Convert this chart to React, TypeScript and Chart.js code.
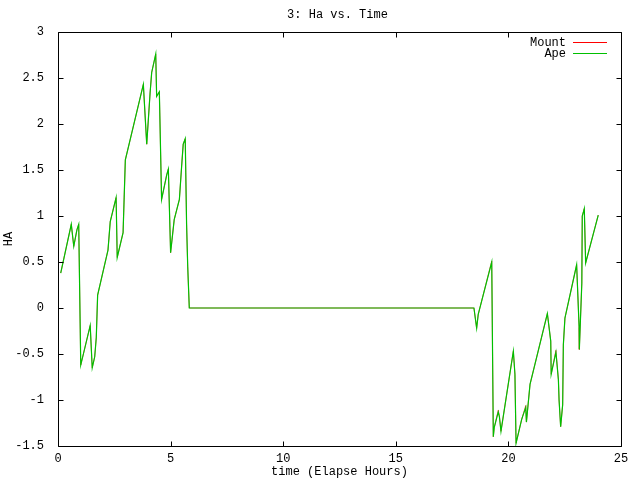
import React, { useEffect, useRef } from "react";
import { Chart, registerables } from "chart.js";

Chart.register(...registerables);

const titleText = "3: Ha vs. Time";
const xAxisTitle = "time (Elapse Hours)";
const yAxisTitle = "HA";
const seriesNames = ["Mount", "Ape"];
const seriesColors = ["#ff0000", "#00c000"];

const timeHours = [
  0.12, 0.59, 0.7, 0.84, 0.92, 1.01, 1.43, 1.52, 1.63, 1.7,
  1.76, 2.22, 2.32, 2.58, 2.63, 2.89, 2.99, 3.79, 3.94, 4.09,
  4.16, 4.34, 4.38, 4.5, 4.6, 4.83, 4.9, 5.0, 5.16, 5.39,
  5.49, 5.56, 5.65, 5.71, 5.76, 5.83,
  18.47, 18.59, 18.66, 19.26, 19.33, 19.37, 19.55, 19.6, 19.67, 20.22,
  20.29, 20.34, 20.59, 20.77, 20.8, 20.96, 21.73, 21.88, 21.9, 22.11,
  22.22, 22.25, 22.32, 22.41, 22.44, 22.51, 23.03, 23.14, 23.15, 23.26,
  23.28, 23.37, 23.43, 23.99,
];

const mountHA = [
  0.38, 0.91, 0.67, 0.85, 0.91, -0.62, -0.19, -0.65, -0.53, -0.32,
  0.14, 0.63, 0.94, 1.2, 0.55, 0.82, 1.61, 2.43, 1.78, 2.34,
  2.56, 2.76, 2.3, 2.35, 1.18, 1.45, 1.51, 0.6, 0.96, 1.18,
  1.54, 1.78, 1.84, 0.91, 0.45, 0.0,
  0.0, -0.22, -0.07, 0.51, -1.4, -1.3, -1.11, -1.18, -1.34, -0.47,
  -0.72, -1.47, -1.21, -1.06, -1.24, -0.83, -0.06, -0.36, -0.72, -0.46,
  -0.78, -1.0, -1.29, -1.05, -0.4, -0.11, 0.47, -0.21, -0.45, 0.27,
  1.0, 1.08, 0.49, 1.01,
];

const apeHA = [
  0.38, 0.91, 0.67, 0.85, 0.91, -0.62, -0.19, -0.65, -0.53, -0.32,
  0.14, 0.63, 0.94, 1.2, 0.55, 0.82, 1.61, 2.43, 1.78, 2.34,
  2.56, 2.76, 2.3, 2.35, 1.18, 1.45, 1.51, 0.6, 0.96, 1.18,
  1.54, 1.78, 1.84, 0.91, 0.45, 0.0,
  0.0, -0.22, -0.07, 0.5, -1.4, -1.3, -1.13, -1.18, -1.34, -0.47,
  -0.72, -1.47, -1.21, -1.08, -1.24, -0.83, -0.06, -0.36, -0.72, -0.48,
  -0.78, -1.0, -1.29, -1.05, -0.4, -0.11, 0.47, -0.21, -0.45, 0.27,
  1.0, 1.08, 0.49, 1.01,
];

const xTicks = [0, 5, 10, 15, 20, 25];
const yTicks = [-1.5, -1, -0.5, 0, 0.5, 1, 1.5, 2, 2.5, 3];

const FONT = "'Liberation Mono', 'DejaVu Sans Mono', monospace";
const FONT_SIZE = 12;

const gnuplotDecor = {
  id: "gnuplotDecor",
  afterDraw(chart: any) {
    const { ctx, chartArea: a, scales } = chart;
    const L = Math.round(a.left) + 0.5;
    const R = Math.round(a.right) + 0.5;
    const T = Math.round(a.top) + 0.5;
    const B = Math.round(a.bottom) + 0.5;
    ctx.save();
    ctx.strokeStyle = "#000";
    ctx.lineWidth = 1;
    ctx.beginPath();
    ctx.rect(L, T, R - L, B - T);
    const tl = 5;
    for (const v of yTicks) {
      const y = Math.round(scales.y.getPixelForValue(v)) + 0.5;
      ctx.moveTo(L, y);
      ctx.lineTo(L + tl, y);
      ctx.moveTo(R, y);
      ctx.lineTo(R - tl, y);
    }
    for (const v of xTicks) {
      const x = Math.round(scales.x.getPixelForValue(v)) + 0.5;
      ctx.moveTo(x, B);
      ctx.lineTo(x, B - tl);
      ctx.moveTo(x, T);
      ctx.lineTo(x, T + tl);
    }
    ctx.stroke();

    ctx.fillStyle = "#000";
    ctx.font = `${FONT_SIZE}px ${FONT}`;
    ctx.textBaseline = "middle";
    ctx.textAlign = "center";
    ctx.fillText(titleText, (a.left + a.right) / 2 - 2, 15);
    ctx.fillText(xAxisTitle, (a.left + a.right) / 2, 472);

    ctx.save();
    ctx.translate(9, (a.top + a.bottom) / 2);
    ctx.rotate(-Math.PI / 2);
    ctx.fillText(yAxisTitle, 0, 0);
    ctx.restore();

    // legend
    ctx.textAlign = "right";
    seriesNames.forEach((name, i) => {
      const y = Math.round(a.top) + 10 + i * 11;
      ctx.fillStyle = "#000";
      ctx.fillText(name, a.right - 55, y + 0.5);
      ctx.fillStyle = seriesColors[i];
      ctx.fillRect(Math.round(a.right) - 48, y, 34, 1);
    });
    ctx.restore();
  },
};

export default function App() {
  const canvasRef = useRef<HTMLCanvasElement | null>(null);

  useEffect(() => {
    const canvas = canvasRef.current;
    if (!canvas) return;
    const makeData = (vals: number[]) => timeHours.map((h, i) => ({ x: h, y: vals[i] }));
    const chart = new Chart(canvas, {
      type: "line",
      data: {
        datasets: [
          {
            label: seriesNames[0],
            data: makeData(mountHA),
            borderColor: seriesColors[0],
            borderWidth: 0.6,
            pointRadius: 0,
            tension: 0,
            fill: false,
            order: 1,
          },
          {
            label: seriesNames[1],
            data: makeData(apeHA),
            borderColor: seriesColors[1],
            borderWidth: 1.2,
            pointRadius: 0,
            tension: 0,
            fill: false,
            order: 0,
          },
        ],
      },
      options: {
        responsive: false,
        animation: false,
        devicePixelRatio: 1,
        layout: { padding: { top: 32, right: 19, left: 0, bottom: 0 } },
        plugins: {
          legend: { display: false },
          title: { display: false },
          tooltip: { enabled: false },
        },
        scales: {
          x: {
            type: "linear",
            min: 0,
            max: 25,
            grid: { display: false },
            border: { display: false },
            ticks: {
              stepSize: 5,
              color: "#000",
              padding: -2,
              maxRotation: 0,
              font: { family: FONT, size: FONT_SIZE },
            },
            afterFit: (s: any) => {
              s.height = 34;
            },
          },
          y: {
            type: "linear",
            min: -1.5,
            max: 3,
            grid: { display: false },
            border: { display: false },
            ticks: {
              stepSize: 0.5,
              color: "#000",
              padding: 6,
              font: { family: FONT, size: FONT_SIZE },
              callback: (v: any) => String(Number(v)),
            },
            afterFit: (s: any) => {
              s.width = 58;
            },
          },
        },
      },
      plugins: [gnuplotDecor],
    });
    return () => chart.destroy();
  }, []);

  return (
    <canvas
      ref={canvasRef}
      width={640}
      height={480}
      style={{ position: "fixed", left: 0, top: 0, width: 640, height: 480 }}
    />
  );
}
